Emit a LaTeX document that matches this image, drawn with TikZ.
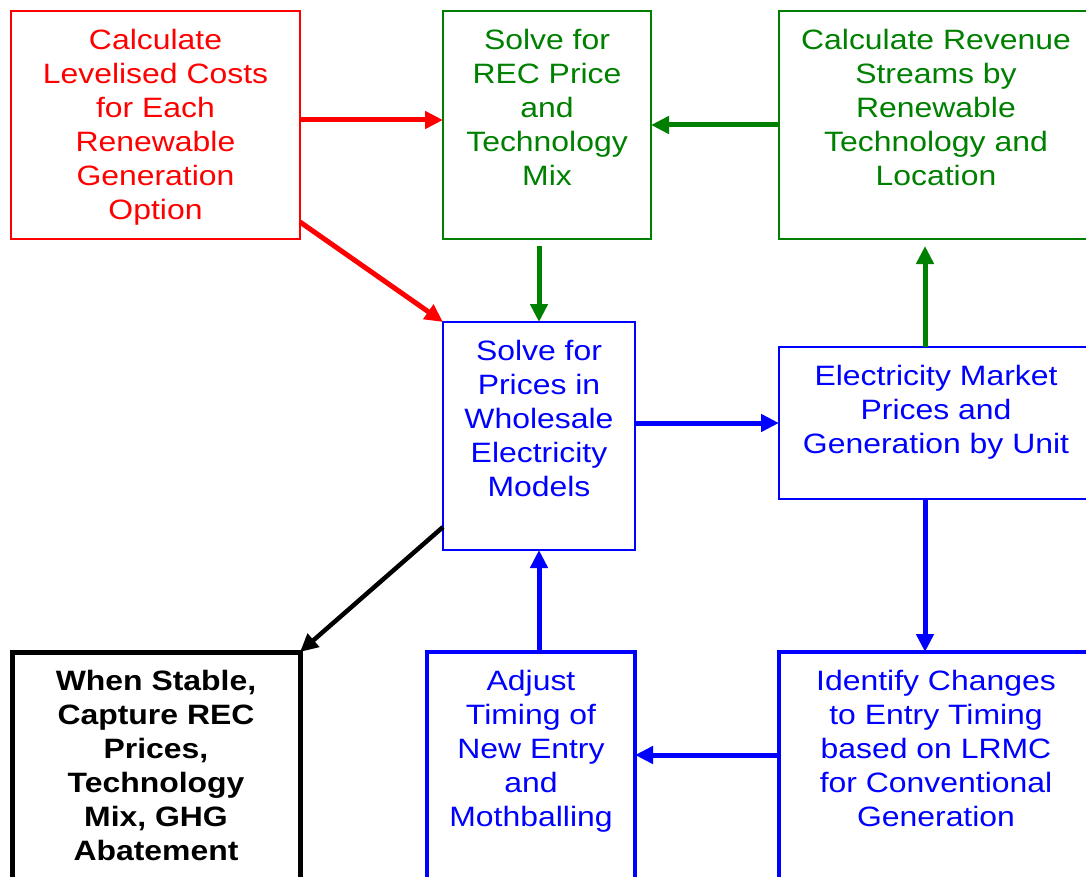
\documentclass[tikz,border=0pt]{standalone}
\usepackage{fontspec}
\setmainfont{Liberation Sans}[FakeStretch=1.14]
\usetikzlibrary{arrows.meta}
\definecolor{cred}{RGB}{255,0,0}
\definecolor{cgreen}{RGB}{0,128,0}
\definecolor{cblue}{RGB}{0,0,255}
\begin{document}
\begin{tikzpicture}[x=1pt,y=-1pt,
  box/.style={draw, line width=2pt, inner sep=0pt, outer sep=0pt, anchor=north west},
  thickbox/.style={box, line width=4pt},
  heavybox/.style={box, line width=5pt},
  txt/.style={anchor=north, align=center, inner sep=0pt, font=\fontsize{28}{34}\selectfont},
  arr/.style={line width=5pt, -{Triangle[length=18pt,width=17pt]}},
  blackarr/.style={line width=4.5pt, -{Triangle[length=18pt,width=17pt]}}]
\useasboundingbox (0,0) rectangle (1086,877);
\fill[white] (0,0) rectangle (1086,877);
\clip (0,0) rectangle (1086,877);

% boxes
\node[box, cred, minimum width=289pt, minimum height=228pt] (calc) at (11,11) {};
\node[box, cgreen, minimum width=208pt, minimum height=228pt] (solvrec) at (443,11) {};
\node[box, cgreen, minimum width=314pt, minimum height=228pt] (rev) at (779,11) {};
\node[box, cblue, minimum width=192pt, minimum height=228pt] (solvprice) at (443,322) {};
\node[box, cblue, minimum width=314pt, minimum height=152pt] (elec) at (779,347) {};
\node[heavybox, black, minimum width=288pt, minimum height=260pt] (stable) at (12,652) {};
\node[thickbox, cblue, minimum width=208pt, minimum height=260pt] (adjust) at (427,652) {};
\node[thickbox, cblue, minimum width=314pt, minimum height=260pt] (ident) at (779,652) {};

% texts
\node[txt, text=cred] (calct) at ([yshift=-18pt]calc.north) {Calculate\\Levelised Costs\\for Each\\Renewable\\Generation\\Option};
\node[txt, text=cgreen] (solvrect) at ([yshift=-18pt]solvrec.north) {Solve for\\REC Price\\and\\Technology\\Mix};
\node[txt, text=cgreen] (revt) at ([yshift=-18pt]rev.north) {Calculate Revenue\\Streams by\\Renewable\\Technology and\\Location};
\node[txt, text=cblue] (solvpricet) at ([yshift=-18pt]solvprice.north) {Solve for\\Prices in\\Wholesale\\Electricity\\Models};
\node[txt, text=cblue] (elect) at ([yshift=-18pt]elec.north) {Electricity Market\\Prices and\\Generation by Unit};
\node[txt, text=black, font=\fontsize{28}{34}\selectfont\bfseries] (stablet) at ([yshift=-18pt]stable.north) {When Stable,\\Capture REC\\Prices,\\Technology\\Mix, GHG\\Abatement};
\node[txt, text=cblue] (adjustt) at ([yshift=-18pt]adjust.north) {Adjust\\Timing of\\New Entry\\and\\Mothballing};
\node[txt, text=cblue] (identt) at ([yshift=-18pt]ident.north) {Identify Changes\\to Entry Timing\\based on LRMC\\for Conventional\\Generation};

% connectors
\draw[arr, cred] ([yshift=5pt]calc.east) -- ([yshift=5pt]calc.east -| solvrec.west);
\draw[arr, cred] ([yshift=-211pt]calc.north east) -- (solvprice.north west);
\draw[arr, cgreen] (rev.west) -- (rev.west -| solvrec.east);
\draw[arr, cgreen] ([yshift=-7pt]solvrec.south -| solvprice.north) -- (solvprice.north);
\draw[arr, cgreen] ([xshift=-11pt]elec.north) -- ([xshift=-11pt,yshift=-7pt]rev.south);
\draw[arr, cblue] (solvprice.east |- elec.west) -- (elec.west);
\draw[arr, cblue] ([xshift=-11pt]elec.south) -- ([xshift=-11pt]elec.south |- ident.north);
\draw[arr, cblue] ([yshift=-103pt]ident.north west) -- ([yshift=-103pt]ident.north west -| adjust.east);
\draw[arr, cblue] (adjust.north -| solvprice.south) -- (solvprice.south);
\draw[blackarr, black] ([yshift=-205pt]solvprice.north west) -- (stable.north east);
\end{tikzpicture}
\end{document}
